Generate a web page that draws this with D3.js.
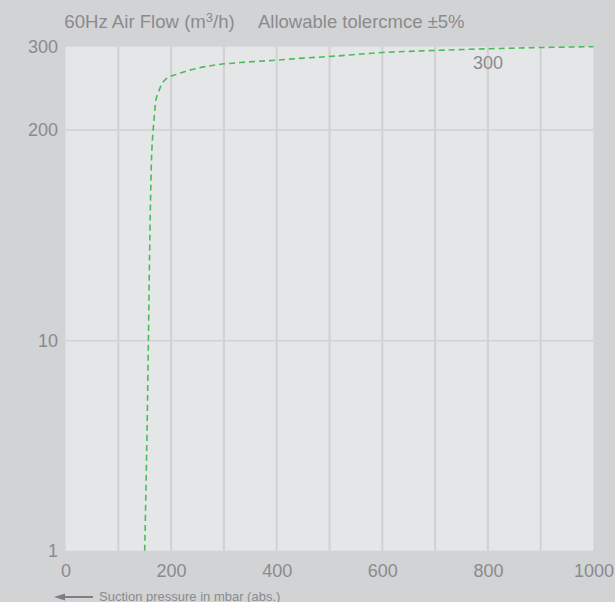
<!DOCTYPE html>
<html><head><meta charset="utf-8">
<script src="https://cdn.jsdelivr.net/npm/d3@7"></script>
<style>
html,body{margin:0;padding:0;background:#d2d3d5;}
svg{display:block;font-family:"Liberation Sans",Arial,sans-serif;}
</style></head>
<body>
<script>
// Data
const pressure = [150, 157, 158, 163, 166, 168, 171, 176, 180, 190, 211, 249, 289, 331, 391, 450, 495, 600, 700, 800, 900, 1000];
const flow     = [1,   10,  47,  175, 200, 215, 235, 245, 252, 261, 267, 274, 278.5, 281, 283.5, 286.3, 288, 293, 295.5, 297.5, 299, 300];
const xTicks = [0, 200, 400, 600, 800, 1000];
const xGrid = [100, 200, 300, 400, 500, 600, 700, 800, 900];
const yTicks = [1, 10, 200, 300];
const yGrid = [10, 200];
const title1 = "60Hz Air Flow (m";
const title2 = "/h)";
const title3 = "Allowable tolercmce \u00b15%";
const annotation = {label: "300", p: 800, v: 280};
const xLabel = "Suction pressure in mbar (abs.)";

(function(){
const W = 615, H = 602;
const svg = d3.select("body").append("svg").attr("width", W).attr("height", H);
svg.append("rect").attr("width", W).attr("height", H).attr("fill", "#d2d3d5");

const pl = 65.5, pr = 593.5, pt = 46.7, pb = 550.7;
const x = d3.scaleLinear().domain([0, 1000]).range([pl, pr]);
const y = d3.scaleLinear().domain([1, 10, 200, 300]).range([pb, 340.7, 130, pt]);

const textCol = "#898b8d";

svg.append("rect").attr("x", pl).attr("y", pt).attr("width", pr - pl).attr("height", pb - pt).attr("fill", "#e5e6e8");

svg.append("g").selectAll("line").data(xGrid).join("line")
  .attr("x1", d => x(d)).attr("x2", d => x(d)).attr("y1", pt).attr("y2", pb)
  .attr("stroke", "#d1d2d4").attr("stroke-width", 2.2);
svg.append("g").selectAll("line").data(yGrid).join("line")
  .attr("x1", pl).attr("x2", pr).attr("y1", d => y(d)).attr("y2", d => y(d))
  .attr("stroke", "#d1d2d4").attr("stroke-width", 1.5);

// axes
const xAxis = svg.append("g").attr("transform", `translate(0,${pb})`)
  .call(d3.axisBottom(x).tickValues(xTicks).tickSize(0).tickPadding(14).tickFormat(d3.format("d")));
xAxis.select(".domain").remove();
xAxis.selectAll("text").attr("fill", textCol).attr("font-size", 18).attr("font-family", "Liberation Sans, Arial, sans-serif");

const yAxis = svg.append("g").attr("transform", `translate(${pl},0)`)
  .call(d3.axisLeft(y).tickValues(yTicks).tickSize(0).tickPadding(7.5).tickFormat(d3.format("d")));
yAxis.select(".domain").remove();
yAxis.selectAll("text").attr("fill", textCol).attr("font-size", 18).attr("font-family", "Liberation Sans, Arial, sans-serif");

// curve
const pts = pressure.map((p, i) => [p, flow[i]]);
const line = d3.line().x(d => x(d[0])).y(d => y(d[1])).curve(d3.curveMonotoneX);
svg.append("path").attr("d", line(pts)).attr("fill", "none")
  .attr("stroke", "#4cbb5a").attr("stroke-width", 1.6).attr("stroke-dasharray", "6,4");

// annotation
svg.append("text").attr("x", x(annotation.p)).attr("y", y(annotation.v))
  .attr("text-anchor", "middle").attr("dominant-baseline", "central")
  .attr("fill", textCol).attr("font-size", 18).text(annotation.label);

// title
const t = svg.append("text").attr("x", 64.3).attr("y", 28.3).attr("fill", textCol).attr("font-size", 18.6);
t.append("tspan").text(title1);
t.append("tspan").attr("font-size", 13).attr("dy", -6.5).text("3");
t.append("tspan").attr("dy", 6.5).text(title2);
svg.append("text").attr("x", 258).attr("y", 28.3).attr("fill", textCol).attr("font-size", 18.5).text(title3);

// bottom arrow + label
const arrowY = 597;
svg.append("line").attr("x1", 62).attr("x2", 93).attr("y1", arrowY).attr("y2", arrowY)
  .attr("stroke", "#7d7f82").attr("stroke-width", 2);
svg.append("path").attr("d", `M54,${arrowY} L65,${arrowY - 3.5} L65,${arrowY + 3.5} Z`).attr("fill", "#7d7f82");
svg.append("text").attr("x", 99).attr("y", 601).attr("fill", textCol).attr("font-size", 13).text(xLabel);
})();
</script>
</body></html>
